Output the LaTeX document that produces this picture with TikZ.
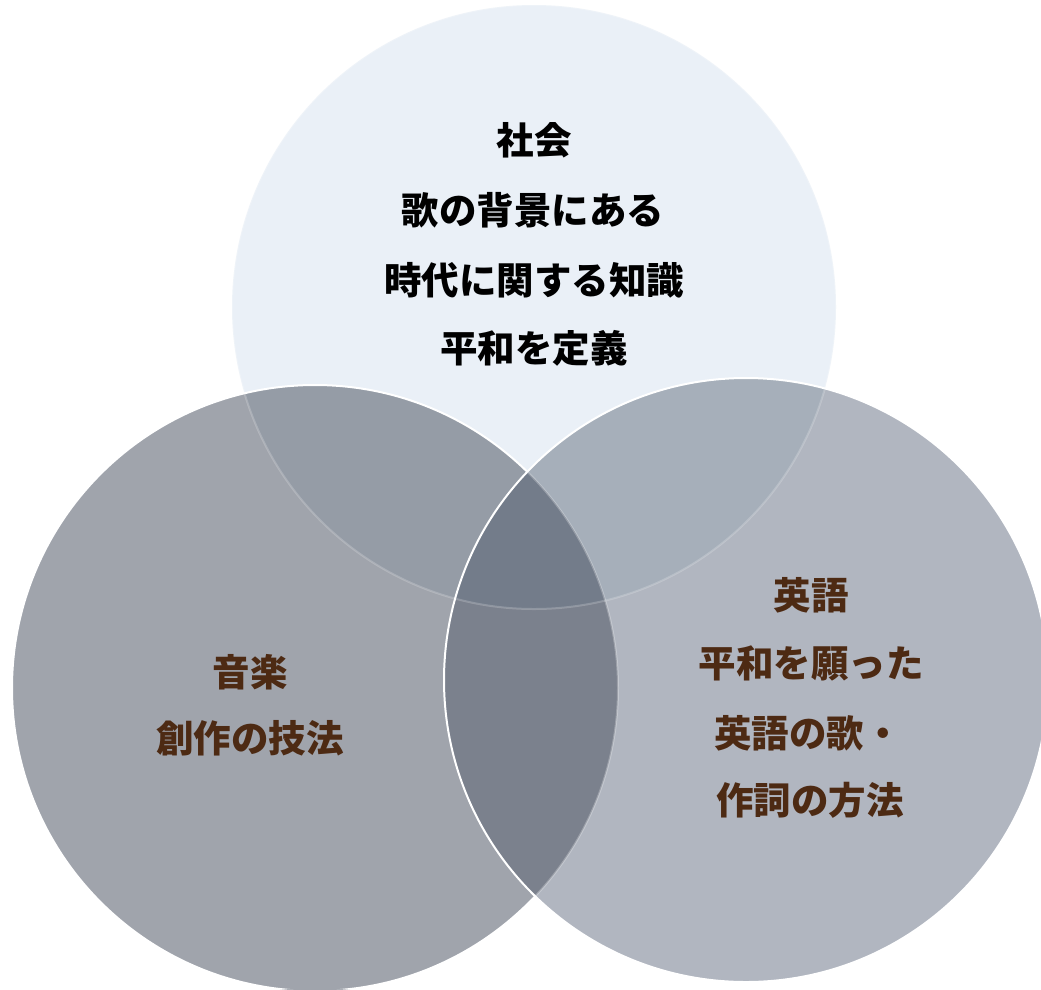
\documentclass[tikz,border=0pt]{standalone}
\usepackage{fontspec}
\newfontfamily\jpfont{Noto Sans CJK JP}
\definecolor{cT}{HTML}{EAF0F7}
\definecolor{cL}{HTML}{A0A4AC}
\definecolor{cR}{HTML}{B1B6C0}
\definecolor{cTL}{HTML}{959CA6}
\definecolor{cTR}{HTML}{A6AFBA}
\definecolor{cLR}{HTML}{7B818D}
\definecolor{cTLR}{HTML}{737C8A}
\definecolor{txtBrown}{HTML}{4D2A13}
\tikzset{
  lbl/.style={font=\jpfont\bfseries\fontsize{37.5}{40}\selectfont, inner sep=0pt, anchor=center},
  blk/.style={lbl, text=black},
  brn/.style={lbl, text=txtBrown},
  rim/.style={draw=white, line width=2pt}
}
\begin{document}
\begin{tikzpicture}[x=1pt,y=-1pt]
\useasboundingbox (0,0) rectangle (1041,989);
\fill[white] (0,0) rectangle (1041,989);
\coordinate (T) at (534,307);
\coordinate (L) at (315,688);
\coordinate (R) at (746,680);
% base fills
\fill[cT] (T) circle (302pt);
\fill[cL] (L) circle (303pt);
\fill[cR] (R) circle (302pt);
% overlaps
\begin{scope}\clip (T) circle (302pt); \fill[cTL] (L) circle (303pt); \end{scope}
\begin{scope}\clip (T) circle (302pt); \fill[cTR] (R) circle (302pt); \end{scope}
\begin{scope}\clip (L) circle (303pt); \fill[cLR] (R) circle (302pt); \end{scope}
\begin{scope}\clip (T) circle (302pt); \clip (L) circle (303pt); \fill[cTLR] (R) circle (302pt); \end{scope}
% rims
\draw[rim, opacity=0.2] (T) circle (302pt);
\begin{scope}[even odd rule]
  \clip (0,0) rectangle (1041,989) (R) circle (302pt);
  \draw[rim] (L) circle (303pt);
\end{scope}
\begin{scope}
  \clip (R) circle (302pt);
  \draw[rim, opacity=0.25] (L) circle (303pt);
\end{scope}
\draw[rim] (R) circle (302pt);
% texts
\node[blk] (t1) at (534,140) {社会};
\node[blk] (t2) at (533,210) {歌の背景にある};
\node[blk] (t3) at (534,280) {時代に関する知識};
\node[blk] (t4) at (534,348) {平和を定義};
\node[brn] (l1) at (250,672) {音楽};
\node[brn] (l2) at (250,738) {創作の技法};
\node[brn] (r1) at (811,595) {英語};
\node[brn] (r2) at (811,663) {平和を願った};
\node[brn] (r3) at (808,733) {英語の歌・};
\node[brn] (r4) at (810,800) {作詞の方法};
\end{tikzpicture}
\end{document}
